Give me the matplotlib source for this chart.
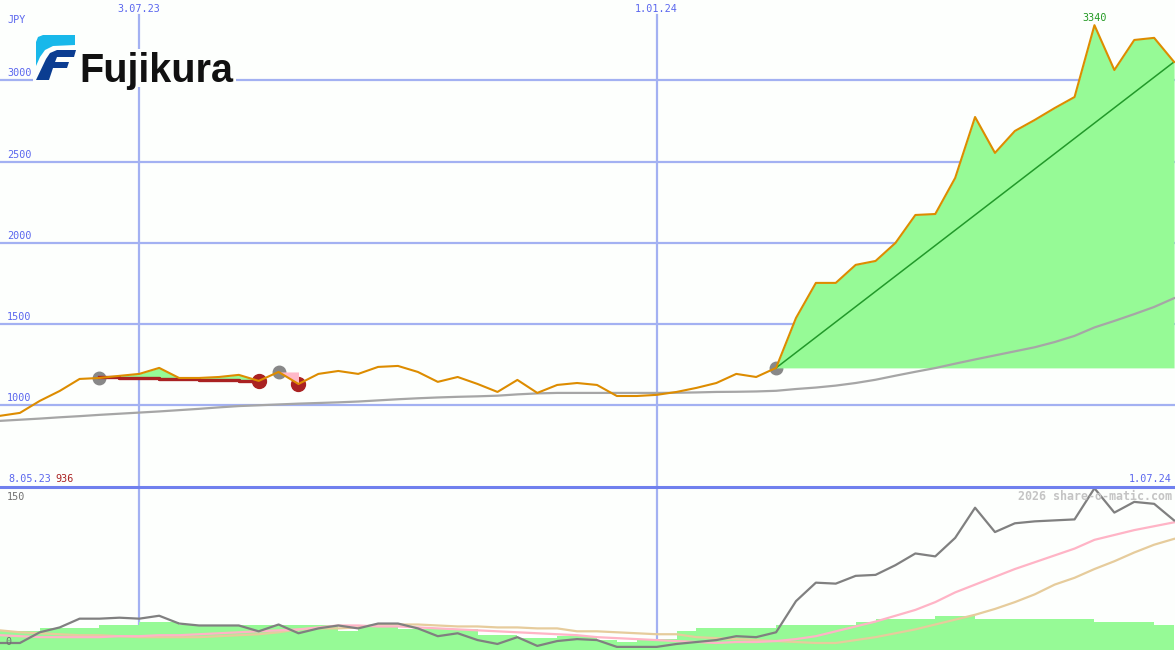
import matplotlib
matplotlib.use('Agg')
import matplotlib.pyplot as plt
import matplotlib.patches as mpatches
import matplotlib.transforms as mtrans
from matplotlib.lines import Line2D
import numpy as np
import pandas as pd

# weekly closes
weeks = pd.date_range('2023-05-15', periods=60, freq='7D')

price = [936, 954, 1028, 1089, 1163, 1169, 1182, 1194, 1231, 1169,
         1169, 1175, 1188, 1151, 1206, 1132, 1194, 1212, 1194, 1237,
         1243, 1206, 1145, 1175, 1132, 1083, 1157, 1077, 1126, 1138,
         1126, 1058, 1058, 1065, 1083, 1108, 1138, 1194, 1175, 1231,
         1538, 1754, 1754, 1865, 1889, 2000, 2172, 2178, 2400, 2775,
         2554, 2689, 2757, 2830, 2898, 3340, 3064, 3249, 3262, 3114]

ma_long = [905, 912, 919, 927, 934, 942, 949, 956, 963, 971,
           979, 988, 996, 1001, 1006, 1011, 1015, 1019, 1024, 1031,
           1038, 1044, 1049, 1053, 1056, 1060, 1068, 1074, 1077, 1077,
           1077, 1077, 1077, 1077, 1078, 1080, 1083, 1084, 1086, 1090,
           1101, 1110, 1122, 1138, 1158, 1183, 1207, 1230, 1257, 1283,
           1308, 1333, 1358, 1390, 1428, 1480, 1520, 1562, 1606, 1660]

# lower panel
osc = [0, 0, 11, 16, 25, 25, 26, 25, 28, 20,
       18, 18, 18, 12, 19, 10, 15, 18, 15, 20,
       20, 15, 7, 10, 3, -1, 6, -3, 2, 4,
       3, -4, -4, -4, -1, 1, 3, 7, 6, 11,
       43, 62, 61, 69, 70, 80, 92, 89, 108, 139,
       114, 123, 125, 126, 127, 159, 134, 145, 143, 126]

osc_fast = [8, 7, 6, 6, 6, 6, 7, 7, 8, 8,
            9, 10, 11, 12, 13, 14, 16, 18, 18, 17,
            17, 16, 15, 14, 13, 12, 11, 10, 9, 8,
            6, 5, 4, 3, 2, 1, 0, 1, 1, 2,
            4, 7, 12, 17, 22, 28, 34, 42, 52, 60,
            68, 76, 83, 90, 97, 106, 111, 116, 120, 124]

osc_slow = [13, 11, 10, 9, 8, 8, 7, 6, 6, 6,
            6, 7, 8, 9, 11, 14, 15, 15, 16, 19,
            19, 19, 18, 17, 17, 16, 16, 15, 15, 12,
            12, 11, 10, 9, 9, 6, 5, 4, 3, 2,
            1, 0, 0, 3, 6, 10, 14, 19, 24, 29,
            35, 42, 50, 60, 67, 76, 84, 93, 101, 107]

volume = [12, 12, 15, 15, 15, 18.5, 18.5, 21.6, 21.6, 18.5,
          18.5, 18.5, 18.5, 18.5, 18.5, 18.5, 18.5, 12.3, 17.5, 17.5,
          14, 14, 14, 14, 8.2, 8.2, 5.1, 5.1, 7.2, 7.2,
          3.1, 1, 4.1, 4.1, 12.3, 15.4, 15.4, 15.4, 15.4, 18.5,
          18.5, 18.5, 18.5, 21.6, 24.7, 24.7, 24.7, 27.7, 27.7, 24.7,
          24.7, 24.7, 24.7, 24.7, 24.7, 21.6, 21.6, 21.6, 18.5, 18.5]

# signals
buy_idx = [5, 14, 39]
sell_idx = [13, 15]
stop1 = [1172, 1166, 1166, 1160, 1160, 1154, 1154, 1148, 1148]  # weeks 5..13
stop2 = [1206, 1206]  # weeks 14..15

date_ticks = ['2023-07-03', '2024-01-01']
date_labels = ['3.07.23', '1.01.24']
price_ticks = [1000, 1500, 2000, 2500, 3000]
first_label = '8.05.23'
last_label = '1.07.24'

BG = '#fdfffd'
GRID = '#a3b1f2'
BLUE = '#5a66ee'
GREEN = '#96fa96'
PINK = '#ffb8c8'
DRED = '#aa2222'
MONO = 'DejaVu Sans Mono'

price = np.array(price, dtype=float)
x = weeks
xlim = (weeks[0], weeks[-1] + pd.Timedelta(hours=8))

fig = plt.figure(figsize=(11.75, 6.5), dpi=100, facecolor=BG)
ax = fig.add_axes([0, 163 / 650, 1, 487 / 650])
ax2 = fig.add_axes([0, 0, 1, 163 / 650])
for a in (ax, ax2):
    a.set_facecolor(BG)
    a.set_xlim(*xlim)
    a.set_xticks([])
    a.set_yticks([])
    for s in a.spines.values():
        s.set_visible(False)

ax.set_ylim(498, 3495)
ax2.set_ylim(-7.2, 160.3)

# grid
for v in price_ticks:
    ax.axhline(v, color=GRID, lw=1.6, zorder=1)
for d in date_ticks:
    ax.axvline(pd.Timestamp(d), ymax=1 - 15 / 487, color=GRID, lw=1.6, zorder=1)
    ax2.axvline(pd.Timestamp(d), color=GRID, lw=1.6, zorder=1)

# signal markers
ax.plot(x[buy_idx], price[buy_idx], 'o', color='#888888', ms=9, zorder=2)
ax.plot(x[sell_idx], price[sell_idx], 'o', color=DRED, ms=10, zorder=2)

# trade fills
seg = slice(5, 14)
st = np.array(stop1, dtype=float)
ax.fill_between(x[seg], price[seg], st, where=price[seg] >= st, interpolate=True,
                color=GREEN, lw=0, zorder=3)
ax.fill_between(x[seg], price[seg], st, where=price[seg] < st, interpolate=True,
                color=PINK, lw=0, zorder=3)
ax.fill_between(x[14:16], price[14:16], stop2, color=PINK, lw=0, zorder=3)
lvl = price[39]
ax.fill_between(x[39:], price[39:], lvl, where=price[39:] >= lvl, interpolate=True,
                color=GREEN, lw=0, zorder=3)

ax.plot(x, ma_long, color='#a6a6a6', lw=1.6, zorder=4)
ax.plot(x[seg], stop1, color=DRED, lw=2.4, drawstyle='steps-post', zorder=4)
ax.plot([x[39], x[-1]], [price[39], price[-1]], color='#22992a', lw=1.1, zorder=5)
ax.plot(x, price, color='#dd8c00', lw=1.5, zorder=6)

imax = int(np.argmax(price))
ax.annotate(f"{price[imax]:.0f}", xy=(x[imax], price[imax]), xytext=(0, 1.5),
            textcoords='offset points', ha='center', va='bottom',
            color='#229922', fontsize=7.3, family=MONO)

# labels on main panel
yt = mtrans.blended_transform_factory(ax.transAxes, ax.transData)
for v in price_ticks:
    ax.text(7 / 1175, v + 12, str(v), transform=yt, ha='left', va='bottom',
            color=BLUE, fontsize=7.3, family=MONO, zorder=7)
xt = mtrans.blended_transform_factory(ax.transData, ax.transAxes)
for d, lab in zip(date_ticks, date_labels):
    ax.text(pd.Timestamp(d), 1 - 9 / 487, lab, transform=xt, ha='center', va='center',
            color=BLUE, fontsize=7.3, family=MONO)
ax.text(7 / 1175, 1 - 20 / 487, 'JPY', transform=ax.transAxes, ha='left', va='center',
        color=BLUE, fontsize=7.3, family=MONO)
ax.text(8 / 1175, 8 / 487, first_label, transform=ax.transAxes, ha='left', va='center',
        color=BLUE, fontsize=7.3, family=MONO)
ax.text(55 / 1175, 8 / 487, f"{price[0]:.0f}", transform=ax.transAxes, ha='left', va='center',
        color=DRED, fontsize=7.3, family=MONO)
ax.text(1172 / 1175, 8 / 487, last_label, transform=ax.transAxes, ha='right', va='center',
        color=BLUE, fontsize=7.3, family=MONO)

# lower panel
ax2.fill_between(x, volume, -10, step='post', color=GREEN, lw=0, zorder=2)
ax2.plot(x, osc_slow, color='#e6cc9c', lw=1.6, zorder=3)
ax2.plot(x, osc_fast, color='#ffb4c6', lw=1.6, zorder=4)
ax2.plot(x, osc, color='#808080', lw=1.6, zorder=5)
yt2 = mtrans.blended_transform_factory(ax2.transAxes, ax2.transData)
ax2.text(7 / 1175, 150, '150', transform=yt2, ha='left', va='center',
         color='#707070', fontsize=7.3, family=MONO, zorder=7)
ax2.text(5 / 1175, 1.5, '0', transform=yt2, ha='left', va='center',
         color='#707070', fontsize=7.3, family=MONO, zorder=7)
ax2.text(1172 / 1175, 1 - 9 / 163, '2026 share-o-matic.com', transform=ax2.transAxes,
         ha='right', va='center', color='#c4c4c4', fontsize=8.4, family=MONO,
         fontweight='bold', zorder=7)

fig.add_artist(Line2D([0, 1], [163 / 650, 163 / 650], transform=fig.transFigure,
                      color='#7080ee', lw=2.2))

# logo
ov = fig.add_axes([0, 0, 1, 1])
ov.set_xlim(0, 1175)
ov.set_ylim(650, 0)
ov.axis('off')
ov.patch.set_alpha(0)
ov.add_patch(mpatches.Rectangle((33, 49), 203, 38, color=BG, lw=0))
ov.add_patch(mpatches.Polygon([(36, 42), (38, 37), (43, 35), (75, 35), (75, 45), (53, 46),
                               (45, 50), (40, 57), (36, 66)], closed=True,
                              color='#18b8ea', lw=0))
ov.add_patch(mpatches.Polygon([(36, 80), (49, 80), (53, 68), (67, 68), (69, 62), (55, 62),
                               (57, 57), (74, 57), (76, 50), (57, 50), (50, 53), (46, 59)],
                              closed=True, color='#0b3d91', lw=0))
ov.text(79, 81.5, 'Fujikura', ha='left', va='baseline', fontsize=28.5,
        family='Liberation Sans', fontweight='bold', color='#111111')

fig.savefig('out.png', dpi=100, facecolor=BG)
